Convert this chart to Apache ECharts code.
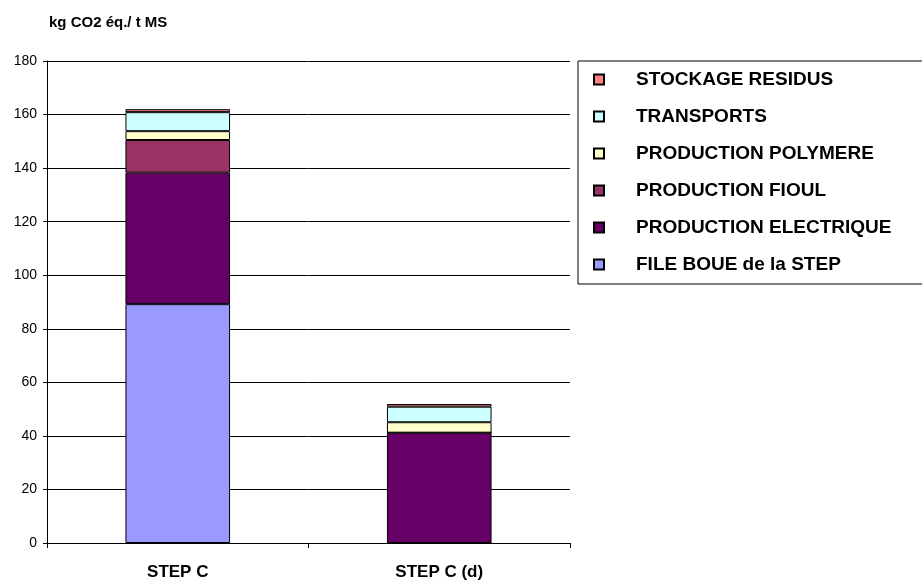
<!DOCTYPE html>
<html>
<head>
<meta charset="utf-8">
<script src="https://cdn.jsdelivr.net/npm/echarts@6/dist/echarts.min.js"></script>
<style>
  html, body { margin: 0; padding: 0; background: #fff; }
  #chart { width: 922px; height: 581px; }
</style>
</head>
<body>
<div id="chart"></div>
<script>
const categories = ['STEP C', 'STEP C (d)'];
const seriesNames = ['FILE BOUE de la STEP', 'PRODUCTION ELECTRIQUE', 'PRODUCTION FIOUL',
  'PRODUCTION POLYMERE', 'TRANSPORTS', 'STOCKAGE RESIDUS'];
const fileBoue = [89.2, 0];
const prodElec = [49.1, 41.2];
const prodFioul = [12.2, 0];
const prodPolymere = [3.3, 3.9];
const transports = [7.1, 5.8];
const stockage = [1.1, 1.0];
const colors = ['#9999FF', '#660066', '#993366', '#FFFFCC', '#CCFFFF', '#FF8080'];
const values = [fileBoue, prodElec, prodFioul, prodPolymere, transports, stockage];

const chart = echarts.init(document.getElementById('chart'));

const option = {
  animation: false,
  title: {
    text: 'kg CO2 éq./ t MS',
    left: 44,
    top: 10,
    textStyle: { fontFamily: 'Liberation Sans', fontSize: 15, fontWeight: 'bold', color: '#000' }
  },
  legend: {
    orient: 'vertical',
    left: 578,
    top: 61,
    data: seriesNames.slice().reverse(),
    icon: 'rect',
    itemWidth: 10,
    itemHeight: 10,
    itemGap: 18,
    padding: [9, 60, 10, 15],
    borderColor: '#000',
    borderWidth: 1,
    textStyle: {
      fontFamily: 'Liberation Sans', fontSize: 19, fontWeight: 'bold', color: '#000',
      padding: [0, 0, 0, 27]
    }
  },
  grid: { left: 47, right: 352, top: 61, bottom: 38 },
  xAxis: {
    type: 'category',
    data: categories,
    axisLine: { lineStyle: { color: '#000' } },
    axisTick: { show: true, length: 5, lineStyle: { color: '#000' } },
    axisLabel: { fontFamily: 'Liberation Sans', fontSize: 17, fontWeight: 'bold', color: '#000', margin: 21 }
  },
  yAxis: {
    type: 'value',
    min: 0,
    max: 180,
    interval: 20,
    axisLine: { show: true, lineStyle: { color: '#000' } },
    axisTick: { show: true, length: 4, lineStyle: { color: '#000' } },
    axisLabel: { fontFamily: 'Liberation Sans', fontSize: 14, color: '#000', margin: 10 },
    splitLine: { lineStyle: { color: '#000', width: 1 } }
  },
  series: seriesNames.map((name, i) => ({
    name: name,
    type: 'bar',
    stack: 'total',
    barWidth: '40%',
    data: values[i],
    itemStyle: { color: colors[i], borderColor: '#000', borderWidth: 1 }
  }))
};

chart.setOption(option);
</script>
</body>
</html>
